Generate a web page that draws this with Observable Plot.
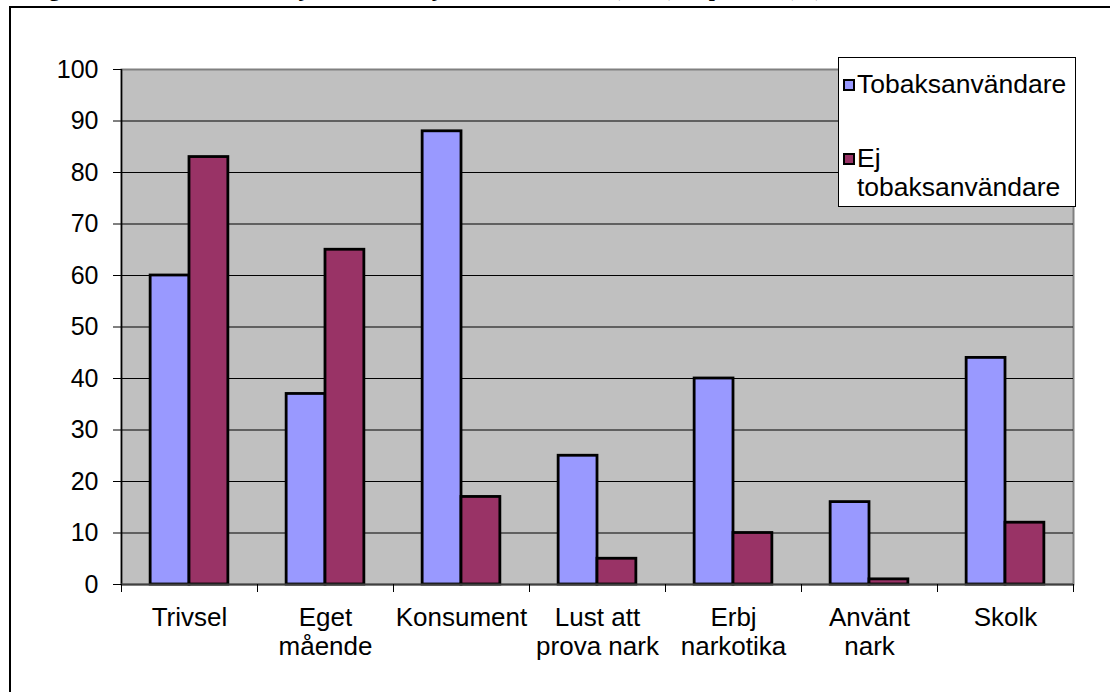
<!DOCTYPE html>
<html>
<head>
<meta charset="utf-8">
<script src="https://cdn.jsdelivr.net/npm/d3@7"></script>
<script src="https://cdn.jsdelivr.net/npm/@observablehq/plot@0.6"></script>
<style>
  body { margin: 0; background: #fff; }
  #wrap { position: relative; width: 1110px; height: 692px; overflow: hidden; font-family: "Liberation Sans", Arial, sans-serif; }
  #title { position: absolute; left: 16px; top: -22px; font: bold 22px/22px "Liberation Serif", "Times New Roman", serif; white-space: nowrap; color: #000; }
  #frame { position: absolute; left: 9px; top: 6px; width: 1200px; height: 800px; border-left: 2px solid #000; border-top: 2px solid #000; }
  #chart { position: absolute; left: 0; top: 0; }
  #legend { position: absolute; left: 838px; top: 57px; width: 236px; height: 148px; border: 1px solid #000; background: #fff; box-sizing: content-box; }
  .item { position: absolute; left: 4px; display: flex; align-items: flex-start; font-size: 26.5px; line-height: 29px; color: #000; }
  .sw { width: 8px; height: 8px; border: 2px solid #000; margin-top: 9px; margin-right: 2px; flex: none; }
</style>
</head>
<body>
<div id="wrap">
  <div id="title">Diagram 3. Tobaksanvändare jämfört med ej tobaksanvändare (antal) – i procent (%)</div>
  <div id="frame"></div>
  <div id="chart"></div>
  <div id="legend"></div>
</div>
<script>
// ---- data ----
const categories = ["Trivsel", "Eget\nmående", "Konsument", "Lust att\nprova nark", "Erbj\nnarkotika", "Använt\nnark", "Skolk"];
const tobaksanvandare = [60, 37, 88, 25, 40, 16, 44];
const ejTobaksanvandare = [83, 65, 17, 5, 10, 1, 12];
const seriesNames = ["Tobaksanvändare", "Ej tobaksanvändare"];
const legendLabels = ["Tobaksanvändare", "Ej\ntobaksanvändare"];
const seriesColors = ["#9999FF", "#993366"];
const yTicks = [0, 10, 20, 30, 40, 50, 60, 70, 80, 90, 100];

// Excel-style gap width 150%
const gap = 1.5 / 3.5 / 2;
const barW = (1 - 2 * gap) / 2;

const seriesValues = [tobaksanvandare, ejTobaksanvandare];
const rows = categories.flatMap((c, i) =>
  seriesNames.map((s, k) => ({
    cat: c, series: s, value: seriesValues[k][i],
    x1: i + gap + k * barW, x2: i + gap + (k + 1) * barW
  }))
);
const boundaries = d3.range(0, categories.length + 1);
const centers = categories.map((c, i) => i + 0.5);

const chart = Plot.plot({
  width: 1110,
  height: 692,
  marginLeft: 121,
  marginRight: 37,
  marginTop: 69,
  marginBottom: 108,
  style: { background: "none", fontFamily: "'Liberation Sans', Arial, sans-serif", fontSize: "25px", color: "#000" },
  x: { domain: [0, categories.length], axis: null },
  y: { domain: [0, 100], axis: null },
  color: { domain: seriesNames, range: seriesColors },
  marks: [
    Plot.frame({ fill: "#C0C0C0", stroke: "#808080", strokeWidth: 2 }),
    Plot.ruleY(yTicks.filter(v => v > 0 && v < 100), { stroke: "#000", strokeWidth: 1 }),
    Plot.rect(rows, { x1: "x1", x2: "x2", y1: () => 0, y2: "value", fill: "series", stroke: "#000", strokeWidth: 2.8 }),
    Plot.ruleX([0], { stroke: "#000", strokeWidth: 1.5 }),
    Plot.ruleY([0], { stroke: "#404040", strokeWidth: 2 }),
    Plot.axisY(yTicks, { anchor: "left", label: null, tickSize: 8, tickPadding: 15, fontSize: 25, stroke: "#000" }),
    Plot.axisX(boundaries, { anchor: "bottom", label: null, tickSize: 8, tickFormat: () => "", stroke: "#000" }),
    Plot.axisX(centers, { anchor: "bottom", label: null, tickSize: 0, tickPadding: 21, fontSize: 26, lineHeight: 1.12, tickFormat: d => categories[Math.floor(d)] })
  ]
});
document.getElementById("chart").appendChild(chart);

// legend
const legend = document.getElementById("legend");
const tops = [12, 86];
seriesNames.forEach((s, k) => {
  const item = document.createElement("div");
  item.className = "item";
  item.style.top = tops[k] + "px";
  const sw = document.createElement("span");
  sw.className = "sw";
  sw.style.background = seriesColors[k];
  const t = document.createElement("span");
  t.style.whiteSpace = "pre";
  t.textContent = legendLabels[k];
  item.appendChild(sw);
  item.appendChild(t);
  legend.appendChild(item);
});
</script>
</body>
</html>
